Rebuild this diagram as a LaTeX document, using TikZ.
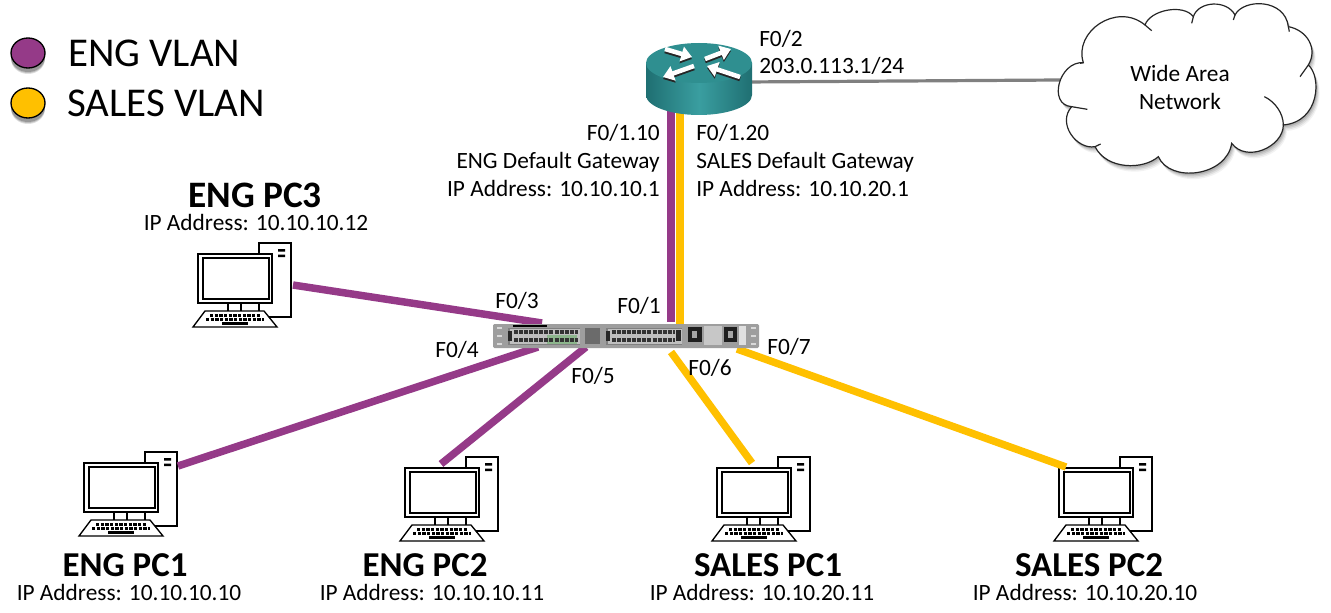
\documentclass[tikz,border=0pt]{standalone}
\usepackage{fontspec}
\setmainfont{Carlito}
\usetikzlibrary{arrows.meta}
\definecolor{engc}{HTML}{953A88}
\definecolor{salesc}{HTML}{FFC000}
\definecolor{tealA}{HTML}{2F8F90}
\definecolor{tealB}{HTML}{3A9EA0}
\definecolor{tealD}{HTML}{1F6F72}
\tikzset{
  x=0.75pt,y=-0.75pt,
  lbl/.style={font=\fontsize{17.5}{19}\selectfont,inner sep=0pt,text height=12pt,text depth=3.5pt,yshift=-2pt},
  pcname/.style={font=\fontsize{28}{30}\selectfont\bfseries,inner sep=0pt,text height=18pt,text depth=0pt},
  pcnamelow/.style={font=\fontsize{26.2}{28}\selectfont\bfseries,inner sep=0pt,text height=17pt,text depth=0pt},
  legendtxt/.style={font=\fontsize{30.7}{33}\selectfont,inner sep=0pt,anchor=west},
  englink/.style={draw=engc,line width=5.6pt},
  saleslink/.style={draw=salesc,line width=5.6pt},
  wanlink/.style={draw=black!50,line width=2.4pt},
  pcline/.style={draw=black,line width=1pt,fill=white},
  rarrow/.style={draw=white,line width=3.4pt,-{Triangle[width=11pt,length=8pt]}},
  rshadow/.style={draw=black!85,line width=3.4pt,-{Triangle[width=11pt,length=8pt]}},
  pcicon/.pic={
    \node[minimum width=73.5pt,minimum height=63pt,inner sep=0pt,anchor=north east] (-box) at (32,0) {};
    \draw[pcline] (0,0) rectangle (32,74);
    \fill (19,6) rectangle (26,8.5) (19,11.5) rectangle (26,14);
    \draw[pcline] (-31,60) -- (-31,68) (-18,60) -- (-18,68);
    \draw[pcline] (-61,11) rectangle (13,60);
    \draw[pcline] (-56,15) rectangle (10,56);
    \draw[pcline] (-54,68) -- (5,68) -- (18,84) -- (-66,84) -- cycle;
    \draw[line width=2pt,dash pattern=on 2.6pt off 0.9pt] (-49,72.5) -- (1,72.5);
    \draw[line width=2pt,dash pattern=on 2.6pt off 0.9pt] (-53,76.5) -- (5,76.5);
    \draw[line width=2pt] (-37,80.5) -- (-11,80.5);
  },
}
\newcommand{\cloudpath}{(155,320) .. controls (82,315) and (117,183) .. (190,188)
  .. controls (160,95) and (290,5) .. (375,75)
  .. controls (390,30) and (490,10) .. (520,50)
  .. controls (535,3) and (620,-2) .. (645,45)
  .. controls (670,-5) and (795,-5) .. (805,80)
  .. controls (860,90) and (895,145) .. (865,195)
  .. controls (905,230) and (900,365) .. (790,375)
  .. controls (790,440) and (680,490) .. (635,430)
  .. controls (620,530) and (450,550) .. (415,470)
  .. controls (370,510) and (260,510) .. (225,440)
  .. controls (170,450) and (110,370) .. (155,320) -- cycle}
\begin{document}
\begin{tikzpicture}
\useasboundingbox (0,0) rectangle (1331,613);
\fill[white] (0,0) rectangle (1331,613);

% legend
\foreach \yy/\cc in {53/engc,103/salesc}{
  \foreach \o/\op in {6/.12,5/.15,4/.2}{
    \fill[black,opacity=\op] (28,\yy+\o) ellipse [x radius=17,y radius=15];
  }
  \filldraw[fill=\cc,draw=black,line width=1pt] (28,\yy) ellipse [x radius=17,y radius=15];
}
\node[legendtxt] (leg1) at (68,53) {ENG VLAN};
\node[legendtxt] (leg2) at (67,103) {SALES VLAN};

% PCs
\pic (pc3) at (259,243) {pcicon};
\pic (pc1) at (145,452) {pcicon};
\pic (pc2) at (466,457) {pcicon};
\pic (pc4) at (778,457) {pcicon};
\pic (pc5) at (1120,457) {pcicon};

% link end points
\coordinate (e3) at (293,285);
\coordinate (s3) at (542,323);
\coordinate (e1) at (178,466);
\coordinate (s1) at (538,347);
\coordinate (e2) at (441,464);
\coordinate (s2) at (586,347);
\coordinate (e4) at (752,463);
\coordinate (s4) at (671,352);
\coordinate (e5) at (1066,467);
\coordinate (s5) at (737,349);
\coordinate (r1) at (671,110);
\coordinate (s1a) at (671,322);
\coordinate (r2) at (680,110);
\coordinate (s2a) at (680,324);
\coordinate (rw) at (745,82);
\coordinate (cw) at (1060,80);

\draw[englink] (e3) -- (s3);
\draw[englink] (e1) -- (s1);
\draw[englink] (e2) -- (s2);
\draw[saleslink] (e4) -- (s4);
\draw[saleslink] (e5) -- (s5);
\draw[englink] (r1) -- (s1a);
\draw[saleslink] (r2) -- (s2a);
\draw[wanlink] (rw) -- (cw);

% switch
\node[fill=black!38,inner sep=0pt,minimum width=199.5pt,minimum height=18pt,rounded corners=1pt] (sw) at (626,336) {};
\fill[black] (513,324.5) rectangle (547,327);
\fill[black!50] (508,328) rectangle (580,345);
\fill[black!25] (510,329) rectangle (580,344);
\fill[black!50] (606,328) rectangle (682,345);
\fill[black!25] (608,329) rectangle (682,344);
\fill[black!85] (508,331) rectangle (512,341);
\fill[black!85] (606,331) rectangle (610,341);
\fill[black!85] (676,330) rectangle (681,341);
\fill[green!35!black!45] (547,335) rectangle (577,344);
\foreach \xs/\xe in {514/578,612/675}{
  \draw[black!80,line width=2.4pt,dash pattern=on 3pt off .8pt] (\xs,332) -- (\xe,332);
  \draw[black!80,line width=2.4pt,dash pattern=on 3pt off .8pt] (\xs,340) -- (\xe,340);
}
\fill[black!58] (585,328) rectangle (600,344);
\fill[black!22] (704,326) rectangle (722,345);
\fill[black!88] (688,327) rectangle (702,342);
\fill[black!88] (724,327) rectangle (737,342);
\fill[black!35] (692,331) rectangle (697,338);
\fill[black!35] (728,331) rectangle (733,338);
\fill[black!12] (739,326) rectangle (746,345);
\foreach \xx in {499,753}{
  \foreach \yy in {328,336,344}{
    \fill[black!15] (\xx-2.5,\yy-.8) rectangle (\xx+2.5,\yy+.8);
  }
}

% router
\node[inner sep=0pt,minimum width=79pt,minimum height=54pt] (router) at (699,79) {};
\shade[left color=tealD,right color=tealD,middle color=tealB]
  (646,63) -- (646,95) arc[start angle=180,end angle=0,x radius=53,y radius=20] -- (752,63) -- cycle;
\fill[tealA] (699,63) ellipse [x radius=53,y radius=20];
\draw[rshadow] (665,51) -- (692,59);
\draw[rshadow] (705,61) -- (731,51);
\draw[rshadow] (694,68) -- (663,79);
\draw[rshadow] (740,79) -- (707,68);
\draw[rarrow] (665,49) -- (692,57);
\draw[rarrow] (705,59) -- (731,49);
\draw[rarrow] (694,66) -- (663,77);
\draw[rarrow] (740,77) -- (707,66);

% cloud
\begin{scope}[shift={(1020,0)},x=0.25pt,y=-0.25pt]
  \foreach \o/\op in {18/.05,14/.07,10/.09,6/.11}{
    \begin{scope}[yshift=-\o*0.25pt,xshift=\o*0.15pt]
      \fill[black,opacity=\op] \cloudpath;
    \end{scope}
  }
  \filldraw[fill=white,draw=black!85,line width=.9pt] \cloudpath;
  \draw[black!85,line width=.9pt,fill=none]
    (375,75) -- (395,92) (520,50) -- (515,70) (645,45) -- (640,60)
    (805,80) -- (808,95) (865,195) -- (840,230) (225,440) -- (242,432)
    (155,320) -- (202,328) (190,188) -- (180,190);
  \draw[black!85,line width=.9pt] (790,375) .. controls (790,340) and (765,305) .. (733,290);
\end{scope}
\node[lbl,anchor=center] (wan1) at (1180,73) {Wide Area};
\node[lbl,anchor=center] (wan2) at (1180,101) {Network};

% router labels
\node[lbl,anchor=west] (t1) at (759,38) {F0/2};
\node[lbl,anchor=west] (t2) at (759,65) {203.0.113.1/24};
\node[lbl,anchor=east] (t3) at (660,132) {F0/1.10};
\node[lbl,anchor=east] (t4) at (660,160) {ENG Default Gateway};
\node[lbl,anchor=east] (t5) at (660,188) {IP Address: 10.10.10.1};
\node[lbl,anchor=west] (t6) at (696,132) {F0/1.20};
\node[lbl,anchor=west] (t7) at (696,160) {SALES Default Gateway};
\node[lbl,anchor=west] (t8) at (696,188) {IP Address: 10.10.20.1};

% port labels
\node[lbl] (f3) at (517,300) {F0/3};
\node[lbl] (f1) at (639,305) {F0/1};
\node[lbl] (f4) at (457,349) {F0/4};
\node[lbl] (f5) at (593,375) {F0/5};
\node[lbl] (f6) at (710,367) {F0/6};
\node[lbl] (f7) at (789,346) {F0/7};

% pc labels
\node[pcname] (n3) at (255,195) {ENG PC3};
\node[lbl] (i3) at (256,222) {IP Address: 10.10.10.12};
\node[pcnamelow] (n1) at (125,565) {ENG PC1};
\node[lbl] (i1) at (129,592) {IP Address: 10.10.10.10};
\node[pcnamelow] (n2) at (425,565) {ENG PC2};
\node[lbl] (i2) at (432,592) {IP Address: 10.10.10.11};
\node[pcnamelow] (n4) at (768,565) {SALES PC1};
\node[lbl] (i4) at (762,592) {IP Address: 10.10.20.11};
\node[pcnamelow] (n5) at (1089,565) {SALES PC2};
\node[lbl] (i5) at (1085,592) {IP Address: 10.10.20.10};
\end{tikzpicture}
\end{document}
